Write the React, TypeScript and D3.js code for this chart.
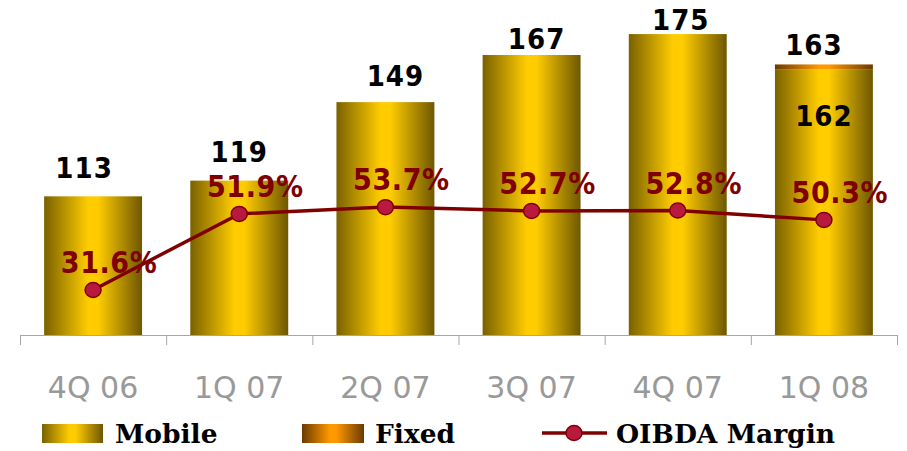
import React from 'react';
import * as d3 from 'd3';

// chart data
const quarters = ['4Q 06', '1Q 07', '2Q 07', '3Q 07', '4Q 07', '1Q 08'];
const mobile = [113, 119, 149, 167, 175, 161.6];
const fixed = [0, 0, 0, 0, 0, 1.8];
const oibdaMargin = [31.6, 51.9, 53.7, 52.7, 52.8, 50.3];

// small hand nudges for the value labels (as in the original slide)
const labelDx = [-9, 0, 10, 5, 3, -10];
const labelGap = [18, 19, 16, 6, 4, 9];

const W = 907;
const H = 451;

const numFont = "'DejaVu Sans Condensed', 'DejaVu Sans', sans-serif";
const legendFont = "'DejaVu Serif', serif";

const App = () => {
    // category bands across the axis
    const x = d3.scaleBand<string>().domain(quarters).range([20, 897]).padding(0);
    const barW = x.bandwidth() * 0.67;
    const barX = (q: string) => (x(q) as number) + (x.bandwidth() - barW) / 2;
    const cx = (q: string) => (x(q) as number) + x.bandwidth() / 2;

    // value axis starts at 60, margin axis on its own 0-100 scale
    const y = d3.scaleLinear().domain([60, 180]).range([335, 21]);
    const yPct = d3.scaleLinear().domain([0, 100]).range([408.5, 33.5]);

    const line = d3.line<number>()
        .x((_, i) => cx(quarters[i]))
        .y(d => yPct(d));

    const legendY = 433;

    return (
        <svg width={W} height={H} style={{ position: 'absolute', left: 0, top: 0 }}>
            <defs>
                <linearGradient id="gMobile" x1="0" x2="1" y1="0" y2="0">
                    <stop offset="0%" stopColor="#7a6100" />
                    <stop offset="45%" stopColor="#ffcc00" />
                    <stop offset="55%" stopColor="#ffcc00" />
                    <stop offset="100%" stopColor="#6e5700" />
                </linearGradient>
                <linearGradient id="gFixed" x1="0" x2="1" y1="0" y2="0">
                    <stop offset="0%" stopColor="#6b3a00" />
                    <stop offset="45%" stopColor="#ff9900" />
                    <stop offset="55%" stopColor="#ff9900" />
                    <stop offset="100%" stopColor="#6b3a00" />
                </linearGradient>
            </defs>

            {/* bars */}
            {quarters.map((q, i) => (
                <g key={q}>
                    <rect x={barX(q)} y={y(mobile[i])} width={barW}
                        height={y(60) - y(mobile[i])} fill="url(#gMobile)" />
                    {fixed[i] > 0 && (
                        <rect x={barX(q)} y={y(mobile[i] + fixed[i])} width={barW}
                            height={y(mobile[i]) - y(mobile[i] + fixed[i])} fill="url(#gFixed)" />
                    )}
                </g>
            ))}

            {/* axis */}
            <line x1={20} x2={897} y1={335.5} y2={335.5} stroke="#a6a6a6" strokeWidth={1} />
            {[...quarters.map(q => x(q) as number), 897].map((t, i) => (
                <line key={i} x1={t + 0.5} x2={t + 0.5} y1={335} y2={345} stroke="#a6a6a6" strokeWidth={1} />
            ))}
            {quarters.map(q => (
                <text key={q} x={cx(q)} y={398} textAnchor="middle" fill="#999999"
                    fontFamily="'DejaVu Sans', sans-serif" fontSize={30}>{q.replace(' ', '\u00a0')}</text>
            ))}

            {/* total labels */}
            {quarters.map((q, i) => {
                const total = mobile[i] + fixed[i];
                return (
                    <text key={q} x={cx(q) + labelDx[i]} y={y(total) - labelGap[i]} textAnchor="middle"
                        fill="#000" fontFamily={numFont} fontWeight="bold" fontSize={29}
                        letterSpacing={1}>{Math.round(total)}</text>
                );
            })}
            {/* mobile label inside the stacked bar */}
            {quarters.map((q, i) => fixed[i] > 0 && (
                <text key={q} x={cx(q)} y={y(mobile[i]) + 57} textAnchor="middle"
                    fill="#000" fontFamily={numFont} fontWeight="bold" fontSize={29}
                    letterSpacing={1}>{Math.round(mobile[i])}</text>
            ))}

            {/* OIBDA margin line */}
            <path d={line(oibdaMargin) || ''} fill="none" stroke="#800000" strokeWidth={3.5} />
            {oibdaMargin.map((v, i) => (
                <ellipse key={i} cx={cx(quarters[i])} cy={yPct(v)} rx={8} ry={7.5}
                    fill="#b8193f" stroke="#800000" strokeWidth={1.5} />
            ))}
            {oibdaMargin.map((v, i) => (
                <text key={i} x={cx(quarters[i]) + 16} y={yPct(v) - 17} textAnchor="middle"
                    fill="#800000" fontFamily={numFont} fontWeight="bold" fontSize={30}
                    letterSpacing={0.6}>{v.toFixed(1)}%</text>
            ))}

            {/* legend */}
            <rect x={42} y={424} width={61} height={19} fill="url(#gMobile)" />
            <text x={115} y={443} fontFamily={legendFont} fontWeight="bold" fontSize={26.5} fill="#000">Mobile</text>
            <rect x={302} y={424} width={62} height={19} fill="url(#gFixed)" />
            <text x={375} y={443} fontFamily={legendFont} fontWeight="bold" fontSize={26.5} fill="#000">Fixed</text>
            <line x1={542} x2={607} y1={legendY} y2={legendY} stroke="#800000" strokeWidth={3.5} />
            <ellipse cx={574} cy={legendY} rx={8} ry={7.5} fill="#b8193f" stroke="#800000" strokeWidth={1.5} />
            <text x={616} y={443} fontFamily={legendFont} fontWeight="bold" fontSize={26.5} fill="#000">OIBDA Margin</text>
        </svg>
    );
};

export default App;
